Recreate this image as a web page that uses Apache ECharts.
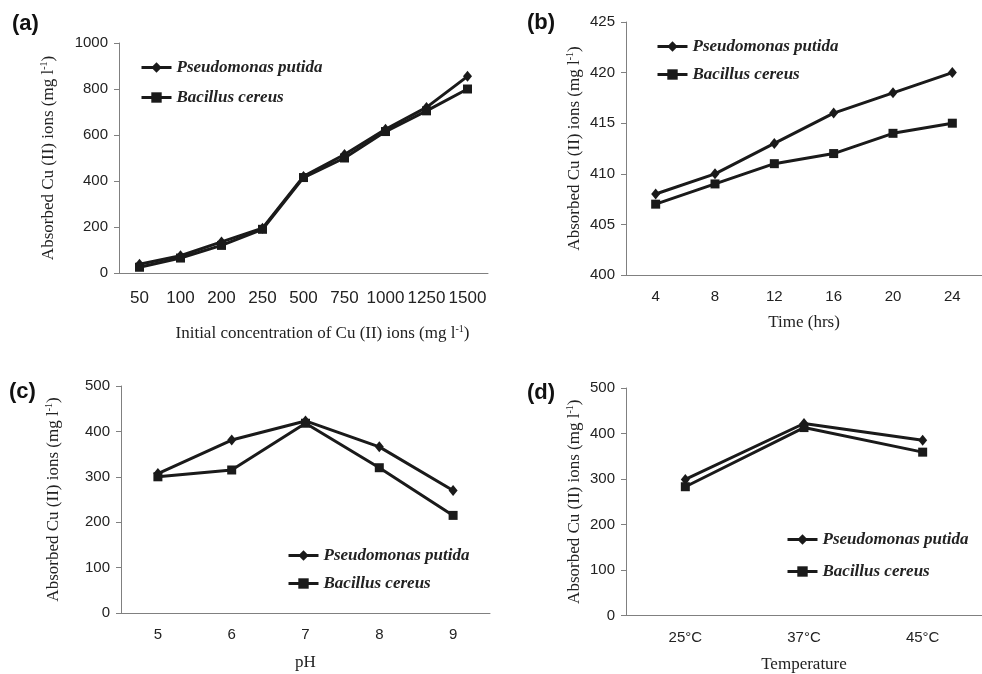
<!DOCTYPE html>
<html>
<head>
<meta charset="utf-8">
<script src="https://cdn.jsdelivr.net/npm/echarts@6/dist/echarts.min.js"></script>
<style>
html, body { margin: 0; padding: 0; background: #fff; }
#main { width: 982px; height: 674px; }
</style>
</head>
<body>
<div id="main"></div>
<script>
// panel (a) - initial concentration
var concLabels = ['50', '100', '200', '250', '500', '750', '1000', '1250', '1500'];
var concPutida = [38, 75, 135, 195, 420, 515, 625, 720, 855];
var concCereus = [25, 65, 120, 190, 415, 500, 615, 705, 800];
// panel (b) - time
var timeLabels = ['4', '8', '12', '16', '20', '24'];
var timePutida = [408, 410, 413, 416, 418, 420];
var timeCereus = [407, 409, 411, 412, 414, 415];
// panel (c) - pH
var phLabels = ['5', '6', '7', '8', '9'];
var phPutida = [307, 381, 423, 366, 270];
var phCereus = [300, 315, 418, 320, 215];
// panel (d) - temperature
var tempLabels = ['25°C', '37°C', '45°C'];
var tempPutida = [299, 422, 385];
var tempCereus = [283, 413, 359];

var seriesNames = ['Pseudomonas putida', 'Bacillus cereus'];

var SERIF = "'Liberation Serif', 'Times New Roman', serif";
var SANS = "'Liberation Sans', Arial, sans-serif";
var axisGray = '#808080';
var ink = '#1a1a1a';

var richName = {
	n: { fontSize: 17, fontFamily: SERIF, color: '#222', lineHeight: 20 },
	s: { fontSize: 10, fontFamily: SERIF, color: '#222', verticalAlign: 'top', lineHeight: 20, padding: [0, 0, 7, 0] }
};
var yTitle = '{n|Absorbed Cu (II) ions (mg l}{s|-1}{n|)}';

function xAxis(idx, labels, name, fs, margin, gap, pad) {
	return {
		type: 'category', gridIndex: idx, data: labels,
		name: name, nameLocation: 'middle', nameGap: gap,
		nameTextStyle: { rich: richName, padding: pad || 0 },
		axisLine: { lineStyle: { color: axisGray, width: 1 } },
		axisTick: { length: 5, lineStyle: { color: axisGray } },
		axisLabel: { fontSize: fs, fontFamily: SANS, color: '#222', margin: margin, interval: 0 },
		splitLine: { show: false }
	};
}
function yAxis(idx, min, max, step, gap) {
	return {
		type: 'value', gridIndex: idx, min: min, max: max, interval: step,
		name: yTitle, nameLocation: 'middle', nameGap: gap,
		nameTextStyle: { rich: richName },
		axisLine: { show: true, lineStyle: { color: axisGray, width: 1 } },
		axisTick: { show: true, length: 5, lineStyle: { color: axisGray } },
		axisLabel: { fontSize: 15, fontFamily: SANS, color: '#222', margin: 11,
			formatter: function (v) { return String(v); } },
		splitLine: { show: false }
	};
}
function pair(idx, putida, cereus) {
	return [
		{ name: seriesNames[0], type: 'line', xAxisIndex: idx, yAxisIndex: idx, data: putida,
		  symbol: 'diamond', symbolSize: [9, 11], color: ink,
		  lineStyle: { width: 3, color: ink }, itemStyle: { color: ink } },
		{ name: seriesNames[1], type: 'line', xAxisIndex: idx, yAxisIndex: idx, data: cereus,
		  symbol: 'rect', symbolSize: 9, color: ink,
		  lineStyle: { width: 3, color: ink }, itemStyle: { color: ink } }
	];
}
function legend(left, top, gap) {
	return {
		data: seriesNames, orient: 'vertical', left: left, top: top, itemGap: gap,
		itemWidth: 30, itemHeight: 13, padding: 0,
		lineStyle: { width: 3, color: ink },
		itemStyle: { color: ink },
		textStyle: { fontFamily: SERIF, fontSize: 17, fontWeight: 'bold', fontStyle: 'italic', color: '#222' }
	};
}
function panelTag(text, left, top) {
	return { text: text, left: left, top: top, padding: 0,
		textStyle: { fontFamily: SANS, fontSize: 22, fontWeight: 'bold', color: '#111' } };
}

var chart = echarts.init(document.getElementById('main'), null, { renderer: 'canvas' });
var option = {
	backgroundColor: '#fff',
	animation: false,
	title: [
		panelTag('(a)', 12, 13),
		panelTag('(b)', 527, 12),
		panelTag('(c)', 9, 381),
		panelTag('(d)', 527, 382)
	],
	legend: [
		legend(140, 59, 13),
		legend(656, 38, 11),
		legend(287, 547, 11),
		legend(786, 531, 15)
	],
	grid: [
		{ left: 119, top: 43, width: 369, height: 230 },
		{ left: 626, top: 22, width: 363, height: 253 },
		{ left: 121, top: 386, width: 369, height: 227 },
		{ left: 626, top: 388, width: 366, height: 230 }
	],
	xAxis: [
		xAxis(0, concLabels, '{n|Initial concentration of Cu (II) ions (mg l}{s|-1}{n|)}', 17, 17, 51, [0, 0, 0, 38]),
		xAxis(1, timeLabels, '{n|Time (hrs)}', 15, 14, 38),
		xAxis(2, phLabels, '{n|pH}', 15, 14, 40),
		xAxis(3, tempLabels, '{n|Temperature}', 15, 15, 39)
	],
	yAxis: [
		yAxis(0, 0, 1000, 200, 60),
		yAxis(1, 400, 425, 5, 41),
		yAxis(2, 0, 500, 100, 57),
		yAxis(3, 0, 500, 100, 41)
	],
	series: [].concat(
		pair(0, concPutida, concCereus),
		pair(1, timePutida, timeCereus),
		pair(2, phPutida, phCereus),
		pair(3, tempPutida, tempCereus)
	)
};
chart.setOption(option);
</script>
</body>
</html>
